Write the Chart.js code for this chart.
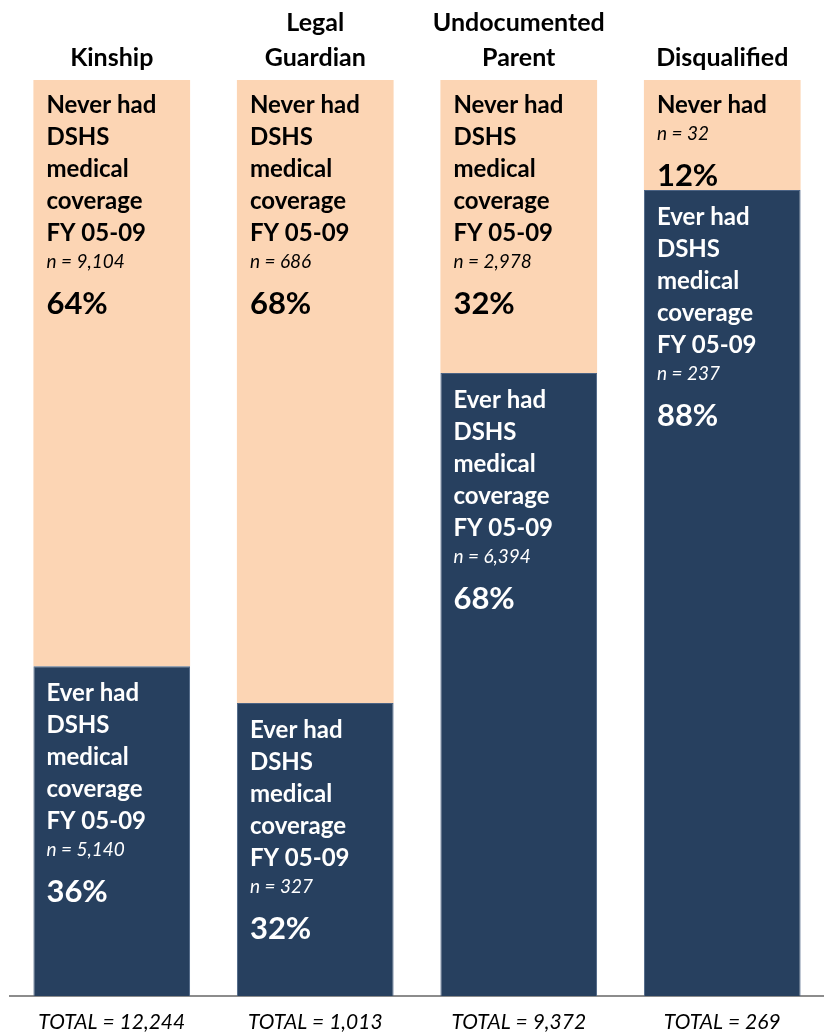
<!DOCTYPE html>
<html>
<head>
<meta charset="utf-8">
<script src="https://cdn.jsdelivr.net/npm/chart.js@4"></script>
<style>
  html, body { margin: 0; padding: 0; background: #fff; }
  #wrap { width: 824px; height: 1033px; }
</style>
</head>
<body>
<div id="wrap"><canvas id="chart"></canvas></div>
<script>
// data
const categories = [['Kinship'], ['Legal', 'Guardian'], ['Undocumented', 'Parent'], ['Disqualified']];
const everPct  = [36, 32, 68, 88];
const neverPct = [64, 68, 32, 12];
const everN    = ['5,140', '327', '6,394', '237'];
const neverN   = ['9,104', '686', '2,978', '32'];
const totals   = ['12,244', '1,013', '9,372', '269'];

const fullEver  = ['Ever had', 'DSHS', 'medical', 'coverage', 'FY 05-09'];
const fullNever = ['Never had', 'DSHS', 'medical', 'coverage', 'FY 05-09'];
const neverLines = [fullNever, fullNever, fullNever, ['Never had']];

const NAVY = '#27405f';
const PEACH = '#fcd5b4';
const FONT = 'Lato, "Open Sans", sans-serif';

Chart.defaults.font.family = FONT;

// text inside each bar segment, anchored at the segment top
const segmentText = {
  id: 'segmentText',
  afterDatasetsDraw(chart) {
    const ctx = chart.ctx;
    chart.data.datasets.forEach((ds, di) => {
      const meta = chart.getDatasetMeta(di);
      meta.data.forEach((bar, i) => {
        const lines = di === 0 ? fullEver : neverLines[i];
        const n = di === 0 ? everN[i] : neverN[i];
        const pct = di === 0 ? everPct[i] : neverPct[i];
        const x = bar.x - bar.width / 2 + 13;
        let y = bar.y + (di === 0 ? 27 : 25);
        ctx.save();
        ctx.fillStyle = di === 0 ? '#ffffff' : '#000000';
        ctx.textBaseline = 'middle';
        ctx.textAlign = 'left';
        ctx.font = 'bold 24px ' + FONT;
        lines.forEach((t, k) => {
          ctx.fillText(t, x, y);
          if (k < lines.length - 1) y += 32;
        });
        y += 29;
        ctx.font = 'italic 19px ' + FONT;
        ctx.fillText('n = ' + n, x, y);
        y += 42;
        ctx.font = 'bold 31px ' + FONT;
        ctx.fillText(pct + '%', x, y);
        ctx.restore();
      });
    });
  }
};

new Chart(document.getElementById('chart').getContext('2d'), {
  type: 'bar',
  data: {
    labels: categories,
    datasets: [
      {
        label: 'Ever had DSHS medical coverage',
        data: everPct,
        backgroundColor: NAVY,
        borderColor: '#4b6384',
        borderWidth: 1,
        barPercentage: 0.77,
        categoryPercentage: 1
      },
      {
        label: 'Never had DSHS medical coverage',
        data: neverPct,
        backgroundColor: PEACH,
        borderWidth: 0,
        barPercentage: 0.77,
        categoryPercentage: 1
      }
    ]
  },
  options: {
    responsive: true,
    maintainAspectRatio: false,
    animation: false,
    layout: { padding: { top: 0, bottom: 0, left: 10, right: 0 } },
    plugins: {
      legend: { display: false },
      tooltip: { enabled: false }
    },
    scales: {
      x: {
        position: 'top',
        stacked: true,
        grid: { display: false },
        border: { display: false },
        afterFit(scale) { scale.height = 80; },
        ticks: {
          color: '#000',
          padding: -3,
          maxRotation: 0,
          font: { size: 25, weight: 'bold', lineHeight: 1.4 }
        }
      },
      x2: {
        position: 'bottom',
        type: 'category',
        labels: totals.map(t => 'TOTAL = ' + t),
        grid: { display: false },
        border: { display: true, color: '#8c8c8c', width: 2 },
        afterFit(scale) { scale.height = 37; },
        ticks: {
          color: '#000',
          padding: 6,
          maxRotation: 0,
          font: { size: 21, style: 'italic', lineHeight: 1.2 }
        }
      },
      y: {
        stacked: true,
        display: false,
        min: 0,
        max: 100
      }
    }
  },
  plugins: [segmentText]
});
</script>
</body>
</html>
